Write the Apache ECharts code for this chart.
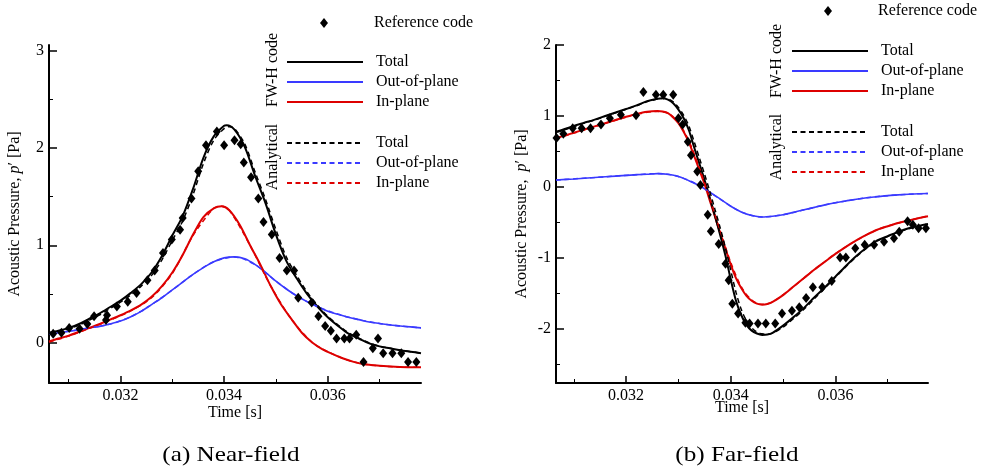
<!DOCTYPE html>
<html><head><meta charset="utf-8">
<script src="https://cdn.jsdelivr.net/npm/echarts@6/dist/echarts.min.js"></script>
<style>html,body{margin:0;padding:0;background:#fff}#c{width:990px;height:470px}</style>
</head><body><div id="c"></div>
<script>
// ---------- tick values ----------
const xMajorTicks = [0.032, 0.034, 0.036];
const xMinorTicks = [0.031, 0.033, 0.035, 0.037];
const yMajorNear = [0, 1, 2, 3];
const yMinorNear = [0.5, 1.5, 2.5];
const yMajorFar = [-2, -1, 0, 1, 2];
const yMinorFar = [-2.5, -1.5, -0.5, 0.5, 1.5];

// ---------- (a) Near-field ----------
const nearRef = [[0.03070,0.09],[0.03086,0.10],[0.03101,0.15],[0.03121,0.14],[0.03136,0.19],[0.03149,0.27],[0.03172,0.23],[0.03174,0.28],[0.03193,0.37],[0.03214,0.42],[0.03231,0.51],[0.03252,0.64],[0.03266,0.74],[0.03282,0.92],[0.03299,1.06],[0.03315,1.16],[0.03320,1.28],[0.03337,1.48],[0.03350,1.76],[0.03365,2.03],[0.03386,2.17],[0.03400,2.03],[0.03420,2.08],[0.03432,2.04],[0.03438,1.85],[0.03452,1.70],[0.03466,1.48],[0.03476,1.24],[0.03492,1.11],[0.03507,0.87],[0.03521,0.74],[0.03535,0.74],[0.03543,0.46],[0.03569,0.41],[0.03582,0.27],[0.03595,0.17],[0.03606,0.12],[0.03617,0.04],[0.03632,0.04],[0.03642,0.04],[0.03655,0.08],[0.03669,-0.20],[0.03687,-0.06],[0.03697,0.04],[0.03707,-0.11],[0.03725,-0.11],[0.03742,-0.11],[0.03755,-0.20],[0.03771,-0.20]];
const nearFwhTotal = [[0.03062,0.10],[0.0308,0.12],[0.0310,0.15],[0.0312,0.19],[0.0314,0.245],[0.0316,0.30],[0.0318,0.365],[0.0320,0.43],[0.0322,0.51],[0.0324,0.60],[0.0326,0.72],[0.0328,0.89],[0.0330,1.10],[0.0332,1.30],[0.0334,1.58],[0.0336,1.90],[0.0338,2.12],[0.0340,2.23],[0.03405,2.235],[0.0342,2.19],[0.0344,2.01],[0.0346,1.71],[0.0348,1.43],[0.0350,1.11],[0.0352,0.84],[0.0354,0.66],[0.0356,0.50],[0.0358,0.37],[0.0360,0.26],[0.0362,0.17],[0.0364,0.09],[0.0366,0.04],[0.0368,-0.01],[0.0370,-0.04],[0.0372,-0.06],[0.0374,-0.08],[0.0376,-0.095],[0.0378,-0.11]];
const nearFwhOut = [[0.03062,0.09],[0.0308,0.10],[0.0310,0.115],[0.0312,0.13],[0.0314,0.15],[0.0316,0.165],[0.0318,0.19],[0.0320,0.22],[0.0322,0.265],[0.0324,0.32],[0.0326,0.39],[0.0328,0.46],[0.0330,0.54],[0.0332,0.62],[0.0334,0.70],[0.0336,0.77],[0.0338,0.83],[0.0340,0.87],[0.0342,0.88],[0.0344,0.86],[0.0346,0.80],[0.0348,0.72],[0.0350,0.63],[0.0352,0.55],[0.0354,0.48],[0.0356,0.42],[0.0358,0.37],[0.0360,0.32],[0.0362,0.29],[0.0364,0.26],[0.0366,0.235],[0.0368,0.21],[0.0370,0.195],[0.0372,0.18],[0.0374,0.17],[0.0376,0.16],[0.0378,0.15]];
const nearFwhIn = [[0.03062,0.01],[0.0308,0.04],[0.0310,0.07],[0.0312,0.11],[0.0314,0.15],[0.0316,0.19],[0.0318,0.235],[0.0320,0.28],[0.0322,0.33],[0.0324,0.39],[0.0326,0.47],[0.0328,0.58],[0.0330,0.72],[0.0332,0.90],[0.0334,1.11],[0.0336,1.29],[0.0338,1.38],[0.03395,1.40],[0.0341,1.36],[0.0343,1.21],[0.0345,1.00],[0.0347,0.80],[0.0349,0.58],[0.0351,0.39],[0.0353,0.24],[0.0355,0.10],[0.0357,0.00],[0.0359,-0.07],[0.0361,-0.12],[0.0363,-0.165],[0.0365,-0.20],[0.0367,-0.225],[0.0370,-0.24],[0.0373,-0.25],[0.0376,-0.255],[0.0378,-0.255]];
const nearAnTotal = [[0.03062,0.09],[0.0308,0.11],[0.0310,0.14],[0.0312,0.18],[0.0314,0.23],[0.0316,0.285],[0.0318,0.35],[0.0320,0.415],[0.0322,0.49],[0.0324,0.58],[0.0326,0.69],[0.0328,0.85],[0.0330,1.05],[0.0332,1.25],[0.0334,1.52],[0.0336,1.84],[0.0338,2.08],[0.0340,2.20],[0.0341,2.22],[0.0342,2.20],[0.0344,2.04],[0.0346,1.75],[0.0348,1.47],[0.0350,1.16],[0.0352,0.88],[0.0354,0.69],[0.0356,0.52],[0.0358,0.385],[0.0360,0.27],[0.0362,0.18],[0.0364,0.10],[0.0366,0.045],[0.0368,-0.005],[0.0370,-0.04],[0.0372,-0.06],[0.0374,-0.08],[0.0376,-0.095],[0.0378,-0.11]];
const nearAnOut = [[0.03062,0.09],[0.0310,0.115],[0.0314,0.15],[0.0318,0.19],[0.0322,0.265],[0.0326,0.39],[0.0330,0.54],[0.0334,0.70],[0.0338,0.83],[0.0342,0.88],[0.0346,0.80],[0.0350,0.63],[0.0354,0.48],[0.0358,0.37],[0.0362,0.29],[0.0366,0.235],[0.0370,0.195],[0.0374,0.17],[0.0378,0.15]];
const nearAnIn = [[0.03062,0.005],[0.0310,0.065],[0.0314,0.145],[0.0318,0.23],[0.0322,0.325],[0.0326,0.46],[0.0330,0.71],[0.0334,1.10],[0.0338,1.38],[0.03395,1.40],[0.0341,1.36],[0.0345,1.00],[0.0349,0.58],[0.0353,0.24],[0.0357,0.00],[0.0361,-0.12],[0.0365,-0.20],[0.0370,-0.24],[0.0376,-0.255],[0.0378,-0.255]];

// ---------- (b) Far-field ----------
const farRef = [[0.03067,0.69],[0.03080,0.75],[0.03098,0.83],[0.03115,0.83],[0.03132,0.83],[0.03152,0.88],[0.03169,0.97],[0.03190,1.02],[0.03219,1.01],[0.03233,1.34],[0.03257,1.30],[0.03271,1.30],[0.03290,1.30],[0.03300,0.97],[0.03308,0.88],[0.03318,0.64],[0.03324,0.45],[0.03336,0.22],[0.03342,0.03],[0.03356,-0.39],[0.03362,-0.62],[0.03377,-0.80],[0.03390,-1.08],[0.03396,-1.31],[0.03403,-1.64],[0.03414,-1.78],[0.03428,-1.91],[0.03436,-1.92],[0.03452,-1.92],[0.03467,-1.92],[0.03485,-1.92],[0.03498,-1.78],[0.03517,-1.74],[0.03531,-1.69],[0.03544,-1.56],[0.03557,-1.41],[0.03575,-1.41],[0.03593,-1.32],[0.03609,-0.99],[0.03620,-0.99],[0.03638,-0.86],[0.03656,-0.81],[0.03674,-0.81],[0.03693,-0.77],[0.03712,-0.72],[0.03722,-0.63],[0.03738,-0.48],[0.03748,-0.53],[0.03759,-0.58],[0.03773,-0.58]];
const farFwhTotal = [[0.03066,0.78],[0.0308,0.81],[0.0310,0.86],[0.0312,0.905],[0.0314,0.95],[0.0316,1.00],[0.0318,1.05],[0.0320,1.10],[0.0322,1.15],[0.0324,1.21],[0.0326,1.245],[0.0327,1.25],[0.0328,1.23],[0.0329,1.18],[0.0330,1.09],[0.0331,0.97],[0.0332,0.80],[0.0333,0.56],[0.0334,0.33],[0.0335,0.10],[0.0336,-0.15],[0.0337,-0.41],[0.0338,-0.68],[0.0339,-0.97],[0.0340,-1.30],[0.0341,-1.60],[0.0342,-1.80],[0.0343,-1.94],[0.0344,-2.02],[0.0345,-2.06],[0.0346,-2.08],[0.0347,-2.075],[0.0348,-2.05],[0.0350,-1.95],[0.0352,-1.83],[0.0354,-1.70],[0.0356,-1.55],[0.0358,-1.41],[0.0360,-1.26],[0.0362,-1.11],[0.0364,-0.97],[0.0366,-0.85],[0.0368,-0.75],[0.0370,-0.69],[0.0372,-0.63],[0.0374,-0.58],[0.0376,-0.545],[0.03777,-0.52]];
const farFwhOut = [[0.03066,0.10],[0.0310,0.115],[0.0314,0.135],[0.0318,0.155],[0.0322,0.175],[0.0324,0.18],[0.0326,0.19],[0.0328,0.18],[0.0330,0.15],[0.0332,0.09],[0.0334,0.02],[0.0336,-0.07],[0.0338,-0.17],[0.0340,-0.27],[0.0342,-0.35],[0.0344,-0.40],[0.0346,-0.42],[0.0348,-0.41],[0.0350,-0.39],[0.0352,-0.355],[0.0354,-0.32],[0.0356,-0.285],[0.0358,-0.25],[0.0360,-0.22],[0.0362,-0.195],[0.0364,-0.17],[0.0366,-0.15],[0.0368,-0.135],[0.0370,-0.12],[0.0372,-0.11],[0.0374,-0.10],[0.0376,-0.093],[0.03777,-0.09]];
const farFwhIn = [[0.03066,0.69],[0.0308,0.72],[0.0310,0.765],[0.0312,0.81],[0.0314,0.855],[0.0316,0.90],[0.0318,0.945],[0.0320,0.99],[0.0322,1.03],[0.0324,1.06],[0.0326,1.07],[0.0327,1.065],[0.0328,1.04],[0.0329,0.98],[0.0330,0.90],[0.0331,0.78],[0.0332,0.63],[0.0333,0.44],[0.0334,0.24],[0.0335,0.04],[0.0336,-0.19],[0.0337,-0.42],[0.0338,-0.65],[0.0339,-0.87],[0.0340,-1.09],[0.0341,-1.28],[0.0342,-1.42],[0.0343,-1.53],[0.0344,-1.60],[0.0345,-1.64],[0.0346,-1.655],[0.0347,-1.645],[0.0348,-1.615],[0.0350,-1.52],[0.0352,-1.40],[0.0354,-1.28],[0.0356,-1.16],[0.0358,-1.05],[0.0360,-0.94],[0.0362,-0.84],[0.0364,-0.75],[0.0366,-0.67],[0.0368,-0.60],[0.0370,-0.55],[0.0372,-0.505],[0.0374,-0.47],[0.0376,-0.435],[0.03777,-0.41]];
const farAnTotal = [[0.03066,0.77],[0.0308,0.80],[0.0310,0.85],[0.0312,0.90],[0.0314,0.945],[0.0316,0.995],[0.0318,1.045],[0.0320,1.095],[0.0322,1.145],[0.0324,1.20],[0.0326,1.24],[0.0327,1.25],[0.0328,1.24],[0.0329,1.20],[0.0330,1.12],[0.0331,1.01],[0.0332,0.86],[0.0333,0.64],[0.0334,0.41],[0.0335,0.18],[0.0336,-0.06],[0.0337,-0.32],[0.0338,-0.58],[0.0339,-0.86],[0.0340,-1.17],[0.0341,-1.48],[0.0342,-1.72],[0.0343,-1.88],[0.0344,-1.98],[0.0345,-2.04],[0.0346,-2.065],[0.0347,-2.07],[0.0348,-2.055],[0.0350,-1.97],[0.0352,-1.85],[0.0354,-1.72],[0.0356,-1.57],[0.0358,-1.42],[0.0360,-1.27],[0.0362,-1.12],[0.0364,-0.98],[0.0366,-0.86],[0.0368,-0.76],[0.0370,-0.695],[0.0372,-0.635],[0.0374,-0.585],[0.0376,-0.55],[0.03777,-0.525]];
const farAnOut = [[0.03066,0.10],[0.0314,0.135],[0.0322,0.175],[0.0326,0.19],[0.0330,0.15],[0.0334,0.02],[0.0338,-0.17],[0.0342,-0.35],[0.0346,-0.42],[0.0350,-0.39],[0.0354,-0.32],[0.0358,-0.25],[0.0362,-0.195],[0.0366,-0.15],[0.0370,-0.12],[0.0374,-0.10],[0.03777,-0.09]];
const farAnIn = [[0.03066,0.685],[0.0310,0.76],[0.0314,0.85],[0.0318,0.94],[0.0322,1.025],[0.0326,1.065],[0.0328,1.04],[0.0330,0.91],[0.0332,0.65],[0.0334,0.27],[0.0336,-0.16],[0.0338,-0.62],[0.0340,-1.06],[0.0342,-1.40],[0.0344,-1.59],[0.0346,-1.65],[0.0348,-1.615],[0.0352,-1.40],[0.0356,-1.16],[0.0360,-0.94],[0.0364,-0.75],[0.0368,-0.60],[0.0372,-0.505],[0.0376,-0.435],[0.03777,-0.41]];

// ---------- labels ----------
const legendLabels = {
  a_ref: 'Reference code', b_ref: 'Reference code',
  a_fwh_total: 'Total', a_fwh_out: 'Out-of-plane', a_fwh_in: 'In-plane',
  a_an_total: 'Total', a_an_out: 'Out-of-plane', a_an_in: 'In-plane',
  b_fwh_total: 'Total', b_fwh_out: 'Out-of-plane', b_fwh_in: 'In-plane',
  b_an_total: 'Total', b_an_out: 'Out-of-plane', b_an_in: 'In-plane'
};

const FONT = 'Liberation Serif';
const BLACK = '#000000', BLUE = '#3a3aff', RED = '#dd0000';

function xAxes(gridIndex, min, max) {
  return [
    { type: 'value', gridIndex, min, max, position: 'bottom',
      axisLine: { show: true, onZero: false, lineStyle: { color: '#000', width: 2 } },
      axisTick: { show: true, inside: true, length: 7, customValues: xMajorTicks, lineStyle: { color: '#000', width: 1.5 } },
      axisLabel: { show: true, customValues: xMajorTicks, margin: 5, color: '#000', fontFamily: FONT, fontSize: 16 },
      splitLine: { show: false } },
    { type: 'value', gridIndex, min, max, position: 'bottom',
      axisLine: { show: false, onZero: false },
      axisTick: { show: true, inside: true, length: 4, customValues: xMinorTicks, lineStyle: { color: '#000', width: 1 } },
      axisLabel: { show: false }, splitLine: { show: false } }
  ];
}
function yAxes(gridIndex, min, max, major, minor) {
  return [
    { type: 'value', gridIndex, min, max, position: 'left',
      axisLine: { show: true, onZero: false, lineStyle: { color: '#000', width: 2 } },
      axisTick: { show: true, inside: true, length: 8, customValues: major, lineStyle: { color: '#000', width: 1.5 } },
      axisLabel: { show: true, customValues: major, margin: 5, color: '#000', fontFamily: FONT, fontSize: 16 },
      splitLine: { show: false } },
    { type: 'value', gridIndex, min, max, position: 'left',
      axisLine: { show: false, onZero: false },
      axisTick: { show: true, inside: true, length: 4, customValues: minor, lineStyle: { color: '#000', width: 1 } },
      axisLabel: { show: false }, splitLine: { show: false } }
  ];
}
function line(name, data, color, dashed, xi, width) {
  return { type: 'line', name, data, xAxisIndex: xi, yAxisIndex: xi, symbol: 'none', smooth: 0.3,
    lineStyle: { color, width: width, type: dashed ? [5, 3.5] : 'solid' }, itemStyle: { color },
    silent: true, z: dashed ? 3 : 2 };
}
function scatter(name, data, xi) {
  return { type: 'scatter', name, data, xAxisIndex: xi, yAxisIndex: xi, symbol: 'diamond', symbolSize: [8, 10],
    itemStyle: { color: '#000', opacity: 1 }, silent: true, z: 5 };
}
const legendText = { fontFamily: FONT, fontSize: 16, color: '#000', lineHeight: 20 };
function lineLegend(names, left, top) {
  return { data: names, left, top, orient: 'vertical', padding: 0, itemGap: 0, itemWidth: 76, itemHeight: 14,
    selectedMode: false, formatter: n => legendLabels[n], itemStyle: { opacity: 0 },
    textStyle: Object.assign({ padding: [0, 0, 0, 8] }, legendText) };
}
function refLegend(names, left, top) {
  return { data: names, left, top, orient: 'vertical', padding: 0, itemGap: 0, itemWidth: 8, itemHeight: 10,
    selectedMode: false, formatter: n => legendLabels[n], symbolKeepAspect: false,
    textStyle: Object.assign({ padding: [0, 0, 0, 41] }, legendText) };
}
function vtext(text, x, y, extraRich) {
  return { type: 'text', x, y, rotation: Math.PI / 2, silent: true,
    style: { text, fontFamily: FONT, fontSize: 16, fill: '#000', align: 'center', verticalAlign: 'middle',
      rich: extraRich || {} } };
}
function htext(text, x, y, size, sx) {
  return { type: 'text', x, y, scaleX: sx || 1, silent: true,
    style: { text, fontFamily: FONT, fontSize: size, fill: '#000', align: 'center', verticalAlign: 'middle' } };
}
const italicRich = { i: { fontFamily: FONT, fontSize: 16, fontStyle: 'italic', fill: '#000' } };

const chart = echarts.init(document.getElementById('c'), null, { renderer: 'canvas' });
chart.setOption({
  animation: false,
  backgroundColor: '#fff',
  grid: [
    { left: 49, top: 45, width: 372, height: 338 },
    { left: 556, top: 45, width: 372, height: 338 }
  ],
  xAxis: [...xAxes(0, 0.03062, 0.0378), ...xAxes(1, 0.03066, 0.03777)],
  yAxis: [...yAxes(0, -0.417, 3.06, yMajorNear, yMinorNear), ...yAxes(1, -2.757, 2.0, yMajorFar, yMinorFar)],
  legend: [
    refLegend(['a_ref'], 320, 13),
    lineLegend(['a_fwh_total', 'a_fwh_out', 'a_fwh_in'], 286, 52),
    lineLegend(['a_an_total', 'a_an_out', 'a_an_in'], 286, 133),
    refLegend(['b_ref'], 824, 1),
    lineLegend(['b_fwh_total', 'b_fwh_out', 'b_fwh_in'], 791, 41),
    lineLegend(['b_an_total', 'b_an_out', 'b_an_in'], 791, 122)
  ],
  series: [
    line('a_fwh_out', nearFwhOut, BLUE, false, 0, 1.6),
    line('a_fwh_in', nearFwhIn, RED, false, 0, 2),
    line('a_fwh_total', nearFwhTotal, BLACK, false, 0, 2),
    line('a_an_out', nearAnOut, BLUE, true, 0, 1.5),
    line('a_an_in', nearAnIn, RED, true, 0, 1.5),
    line('a_an_total', nearAnTotal, BLACK, true, 0, 1.5),
    scatter('a_ref', nearRef, 0),
    line('b_fwh_out', farFwhOut, BLUE, false, 2, 1.6),
    line('b_fwh_in', farFwhIn, RED, false, 2, 2),
    line('b_fwh_total', farFwhTotal, BLACK, false, 2, 2),
    line('b_an_out', farAnOut, BLUE, true, 2, 1.5),
    line('b_an_in', farAnIn, RED, true, 2, 1.5),
    line('b_an_total', farAnTotal, BLACK, true, 2, 1.5),
    scatter('b_ref', farRef, 2)
  ],
  graphic: [
    vtext('Acoustic Pressure, {i|p}\u2032 [Pa]', 15, 214, italicRich),
    vtext('Acoustic Pressure,  {i|p}\u2032 [Pa]', 522, 214, italicRich),
    vtext('FW-H code', 273, 70),
    vtext('Analytical', 273, 157),
    vtext('FW-H code', 777, 61),
    vtext('Analytical', 777, 147),
    htext('Time [s]', 235, 413, 16),
    htext('Time [s]', 742, 408, 16),
    htext('(a) Near-field', 231, 455, 21, 1.2),
    htext('(b) Far-field', 737, 455, 21, 1.2)
  ]
});
</script>
</body></html>
